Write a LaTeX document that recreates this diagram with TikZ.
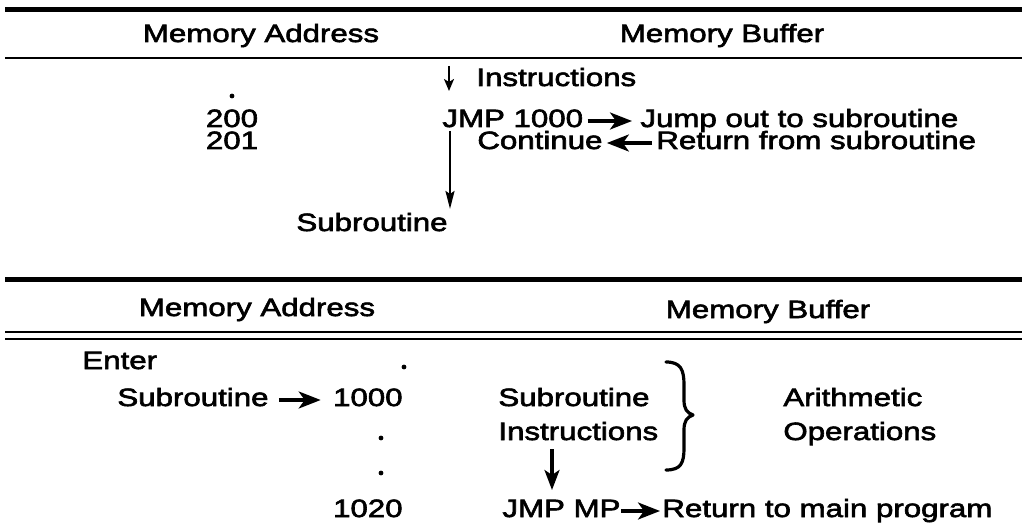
\documentclass[tikz,border=0pt]{standalone}
\usepackage{fontspec}
\setmainfont{Liberation Sans}
\newfontfamily\lab[FakeStretch=1.25,FakeBold=2.5]{Liberation Sans}
\usetikzlibrary{arrows.meta,calc}
\begin{document}
\begin{tikzpicture}[x=0.5pt,y=-0.5pt,
  txt/.style={inner sep=0pt,font=\lab\fontsize{12.5pt}{15pt}\selectfont},
  harrow/.style={line width=1.6pt,-{Stealth[length=11pt,width=8.5pt,inset=3pt]}},
  varrow/.style={line width=1pt,-{Stealth[length=6pt,width=5pt,inset=1.5pt]}},
  longarrow/.style={line width=1.1pt,-{Stealth[length=9pt,width=4.5pt,inset=1.5pt]}},
  bigdown/.style={line width=1.6pt,-{Stealth[length=10pt,width=7.5pt,inset=2.5pt]}},
  thickrule/.style={line width=2.5pt},
  thinrule/.style={line width=0.9pt},
  dblrule/.style={line width=1.4pt},
  dotm/.style={circle,fill,inner sep=0pt,minimum size=2.4pt},
  bracestyle/.style={line width=1.6pt,line cap=round,line join=round}]
\useasboundingbox (0,0) rectangle (1022,529);

% ---------- top table ----------
\draw[thickrule] (5,10) -- (1022,10);
\node[txt,anchor=base] (hma1) at (261,42) {Memory Address};
\node[txt,anchor=base] (hmb1) at (722,42) {Memory Buffer};
\draw[thinrule] (5,58) -- (1022,58);

\node[dotm] (d0) at (232,96) {};
\node[txt,anchor=base] (a200) at (232,127) {200};
\node[txt,anchor=base] (a201) at (232,149) {201};

\coordinate (itop) at (449,66);
\coordinate (ibot) at (449,91);
\draw[varrow] (itop) -- (ibot);
\node[txt,anchor=base west] (instr) at (476,86) {Instructions};

\node[txt,anchor=base west] (jmp) at (442,127) {JMP 1000};
\node[txt,anchor=base west] (jump) at (640,127) {Jump out to subroutine};
\draw[harrow] ([xshift=2pt,yshift=3pt]jmp.base east) -- ([xshift=-4pt,yshift=3pt]jump.base west);

\node[txt,anchor=base west] (cont) at (477,149) {Continue};
\node[txt,anchor=base west] (ret) at (656,149) {Return from subroutine};
\draw[harrow] ([xshift=-2pt,yshift=3pt]ret.base west) -- ([xshift=2pt,yshift=3pt]cont.base east);

\node[txt,anchor=base] (sub1) at (372,231) {Subroutine};
\coordinate (vtop) at (450,131);
\coordinate (vbot) at (450,209);
\draw[longarrow] (vtop) -- (vbot);

% ---------- bottom table ----------
\draw[thickrule] (5,279) -- (1022,279);
\node[txt,anchor=base] (hma2) at (257,316) {Memory Address};
\node[txt,anchor=base] (hmb2) at (768,318) {Memory Buffer};
\draw[dblrule] (5,332) -- (1022,332);
\draw[dblrule] (5,339) -- (1022,339);

\node[txt,anchor=base west] (enter) at (82,369) {Enter};
\node[dotm] (d1) at (404,367) {};
\node[txt,anchor=base west] (esub) at (117,406) {Subroutine};
\node[txt,anchor=base east] (a1000) at (403,406) {1000};
\draw[harrow] ([xshift=5pt,yshift=3pt]esub.base east) -- ([xshift=-6pt,yshift=3pt]a1000.base west);
\node[dotm] (d2) at (381,438) {};
\node[dotm] (d3) at (381,473) {};
\node[txt,anchor=base east] (a1020) at (403,517) {1020};

\node[txt,anchor=base west] (ssub) at (498,406) {Subroutine};
\node[txt,anchor=base west] (sinst) at (498,440) {Instructions};
\draw[bracestyle] (666,362) .. controls (681,362) and (684,370) .. (684,385)
  -- (684,400) .. controls (684,409) and (687,413) .. (693,415)
  .. controls (687,417) and (684,421) .. (684,430)
  -- (684,448) .. controls (684,463) and (681,470) .. (666,470);
\node[txt,anchor=base west] (arith) at (783,406) {Arithmetic};
\node[txt,anchor=base west] (oper) at (783,440) {Operations};

\coordinate (atop) at (552,449);
\coordinate (abot) at (552,490);
\draw[bigdown] (atop) -- (abot);

\node[txt,anchor=base west] (jmpmp) at (502,517) {JMP MP};
\node[txt,anchor=base west] (rmain) at (662,517) {Return to main program};
\draw[harrow] ([yshift=3pt]jmpmp.base east) -- ([xshift=-1pt,yshift=3pt]rmain.base west);
\end{tikzpicture}
\end{document}
